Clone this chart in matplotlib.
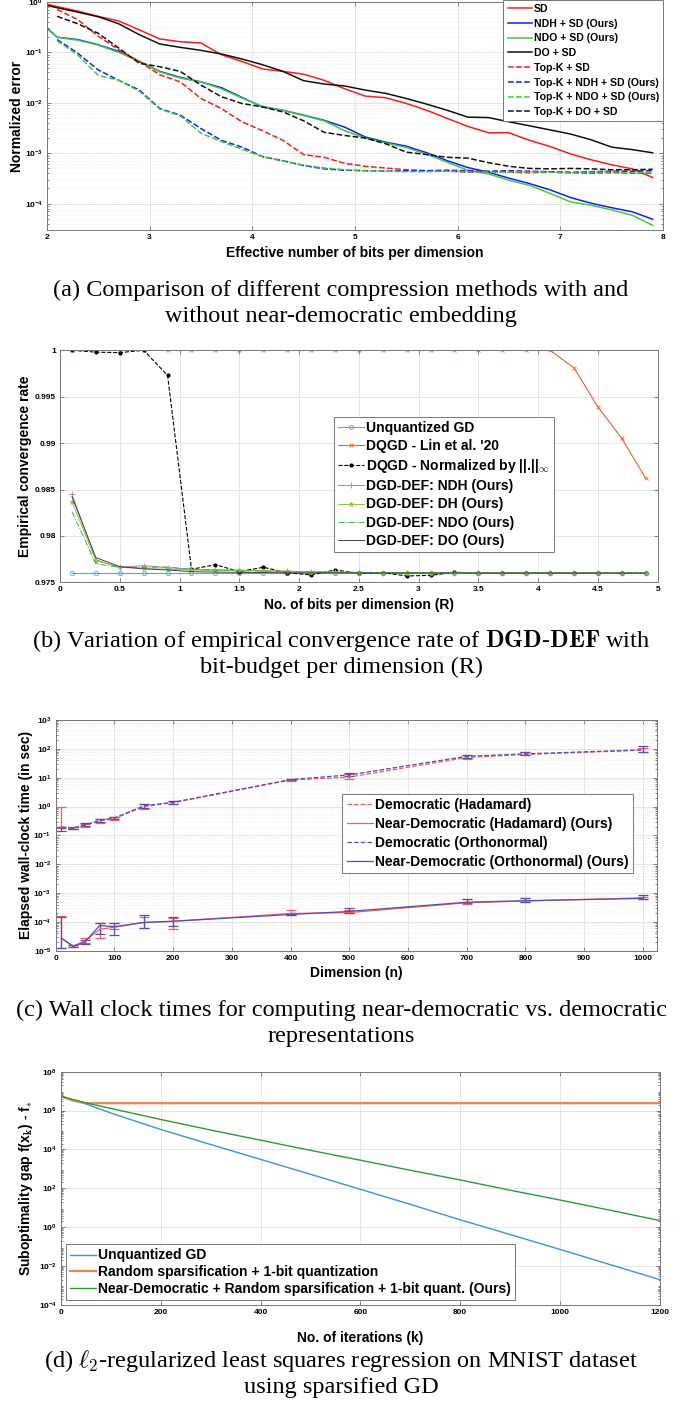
import matplotlib
matplotlib.use("Agg")
import matplotlib.pyplot as plt
from matplotlib.ticker import LogLocator, NullFormatter, MultipleLocator

plt.rcParams['font.family'] = ['Liberation Sans', 'DejaVu Sans']
plt.rcParams['mathtext.fontset'] = 'cm'

# ---- (a) compression methods ----
bits_solid = [2.0, 2.1, 2.3, 2.5, 2.7, 2.9, 3.1, 3.3, 3.5, 3.7, 3.9, 4.1, 4.3, 4.5, 4.7, 4.9,
              5.1, 5.3, 5.5, 5.7, 5.9, 6.1, 6.3, 6.5, 6.7, 6.9, 7.1, 7.3, 7.5, 7.7, 7.9]
bits_topk = [2.1, 2.3, 2.5, 2.7, 2.9, 3.1, 3.3, 3.5, 3.7, 3.9, 4.1, 4.3, 4.5, 4.7, 4.9,
             5.1, 5.3, 5.5, 5.7, 5.9, 6.1, 6.3, 6.5, 6.7, 6.9, 7.1, 7.3, 7.5, 7.7, 7.9]
sd = [0.9, 0.81, 0.66, 0.52, 0.42, 0.28, 0.185, 0.163, 0.154, 0.090, 0.066, 0.047, 0.042, 0.037,
      0.028, 0.019, 0.0136, 0.0126, 0.0097, 0.0071, 0.0049, 0.0034, 0.00255, 0.00255, 0.0018,
      0.00136, 0.00097, 0.00074, 0.00059, 0.00049, 0.00033]
ndh_sd = [0.31, 0.20, 0.18, 0.142, 0.105, 0.066, 0.042, 0.032, 0.026, 0.020, 0.0128, 0.0083,
          0.0071, 0.0057, 0.0045, 0.0033, 0.0021, 0.00166, 0.00138, 0.00102, 0.00071, 0.00052,
          0.00042, 0.00032, 0.00025, 0.000188, 0.000132, 0.000102, 8.3e-5, 6.9e-5, 4.9e-5]
ndo_sd = [0.30, 0.20, 0.175, 0.14, 0.10, 0.068, 0.041, 0.031, 0.026, 0.019, 0.0125, 0.0085,
          0.0071, 0.0056, 0.0044, 0.0028, 0.0020, 0.0016, 0.0013, 0.00095, 0.00066, 0.00046,
          0.00039, 0.00029, 0.00023, 0.00016, 0.000108, 9.3e-5, 7.5e-5, 5.9e-5, 3.7e-5]
do_sd = [0.86, 0.77, 0.63, 0.51, 0.37, 0.225, 0.147, 0.126, 0.11, 0.093, 0.074, 0.057, 0.042,
         0.0275, 0.0236, 0.0216, 0.0179, 0.0154, 0.0122, 0.0094, 0.0071, 0.0052, 0.0051, 0.0042,
         0.0035, 0.0029, 0.0024, 0.00185, 0.00132, 0.00118, 0.00102]
topk_sd = [0.71, 0.45, 0.21, 0.113, 0.066, 0.036, 0.026, 0.0122, 0.0077, 0.0042, 0.0028, 0.0018,
           0.00094, 0.00083, 0.00063, 0.00055, 0.00051, 0.00047, 0.00045, 0.00044, 0.00042,
           0.00043, 0.00042, 0.00041, 0.00042, 0.00041, 0.0004, 0.00041, 0.0004, 0.0004]
topk_ndh = [0.18, 0.097, 0.045, 0.028, 0.018, 0.0077, 0.0057, 0.0031, 0.0018, 0.00132, 0.00086,
            0.00071, 0.00057, 0.00049, 0.00046, 0.00045, 0.00044, 0.00045, 0.00045, 0.00046,
            0.00045, 0.00044, 0.00045, 0.00044, 0.00043, 0.00042, 0.00043, 0.00044, 0.00044, 0.00045]
topk_ndo = [0.17, 0.09, 0.035, 0.028, 0.017, 0.0075, 0.0055, 0.0025, 0.0017, 0.0012, 0.00085,
            0.0007, 0.00058, 0.00051, 0.00047, 0.00045, 0.00044, 0.00043, 0.00043, 0.00044,
            0.00043, 0.00042, 0.00042, 0.00043, 0.00042, 0.00041, 0.00042, 0.00042, 0.00041, 0.00041]
topk_do = [0.52, 0.37, 0.24, 0.122, 0.061, 0.052, 0.042, 0.0225, 0.0132, 0.0097, 0.0083, 0.0066,
           0.0044, 0.0026, 0.00225, 0.0020, 0.00154, 0.00105, 0.00094, 0.00083, 0.0008, 0.00065,
           0.00055, 0.0005, 0.00049, 0.0005, 0.00049, 0.00047, 0.00047, 0.00048]

# ---- (b) convergence rate vs R ----
R = [0.1, 0.3, 0.5, 0.7, 0.9, 1.1, 1.3, 1.5, 1.7, 1.9, 2.1, 2.3, 2.5, 2.7, 2.9, 3.1, 3.3, 3.5,
     3.7, 3.9, 4.1, 4.3, 4.5, 4.7, 4.9]
unq_gd = [0.976, 0.976, 0.976, 0.976, 0.976, 0.976, 0.976, 0.976, 0.976, 0.976, 0.976, 0.976,
          0.976, 0.976, 0.976, 0.976, 0.976, 0.976, 0.976, 0.976, 0.976, 0.976, 0.976, 0.976, 0.976]
dqgd_lin = [1, 1, 1, 1, 1, 1, 1, 1, 1, 1, 1, 1, 1, 1, 1, 1, 1, 1, 1, 1, 1,
            0.9981, 0.9939, 0.9905, 0.9862]
dqgd_inf = [1.0, 0.9998, 0.99975, 1.0, 0.9973, 0.9764, 0.9769, 0.97615, 0.97662, 0.97604,
            0.97579, 0.97633, 0.97597, 0.97604, 0.97568, 0.97575, 0.97608, 0.976, 0.976,
            0.97604, 0.97602, 0.97597, 0.976, 0.976, 0.97597]
def_ndh = [0.98452, 0.97741, 0.97662, 0.9768, 0.97658, 0.9764, 0.97635, 0.9763, 0.97625, 0.9762,
           0.97612, 0.9761, 0.97605, 0.97605, 0.97603, 0.97603, 0.97602, 0.97602, 0.97601,
           0.97601, 0.97601, 0.976, 0.976, 0.976, 0.976]
def_dh = [0.98369, 0.97733, 0.97662, 0.9765, 0.9764, 0.97633, 0.9763, 0.97628, 0.97625, 0.9762,
          0.97612, 0.9761, 0.97607, 0.97605, 0.97605, 0.97604, 0.97603, 0.97602, 0.97602,
          0.97601, 0.97601, 0.97601, 0.976, 0.976, 0.976]
def_ndo = [0.9826, 0.977, 0.9766, 0.9766, 0.97665, 0.9764, 0.9763, 0.97625, 0.9762, 0.97615,
           0.9761, 0.97608, 0.97606, 0.97605, 0.97604, 0.97603, 0.97602, 0.97602, 0.97601,
           0.97601, 0.976, 0.976, 0.976, 0.976, 0.976]
def_do = [0.98423, 0.97766, 0.97669, 0.97645, 0.97633, 0.97615, 0.9761, 0.97607, 0.97605,
          0.97603, 0.97602, 0.97602, 0.97601, 0.97601, 0.976, 0.976, 0.976, 0.976, 0.976, 0.976,
          0.976, 0.976, 0.976, 0.976, 0.976]

# ---- (c) wall clock ----
dims = [10, 30, 50, 75, 100, 150, 200, 400, 500, 700, 800, 1000]
dem_had = [0.2, 0.18, 0.22, 0.32, 0.38, 1.0, 1.35, 8.3, 10.5, 50, 64, 90]
dem_had_lo = [0.18, 0.17, 0.2, 0.27, 0.34, 0.85, 1.2, 7.8, 9.0, 45, 60, 75]
dem_had_hi = [1.0, 0.2, 0.25, 0.38, 0.43, 1.2, 1.5, 9.2, 13, 60, 78, 110]
near_had = [2.7e-5, 1.45e-5, 2.2e-5, 5.5e-5, 6.5e-5, 9.5e-5, 1.05e-4, 1.95e-4, 2.1e-4, 4.6e-4,
            5.3e-4, 6.8e-4]
near_had_lo = [1.2e-5, 1.35e-5, 1.8e-5, 2.8e-5, 5.5e-5, 6e-5, 5.5e-5, 1.7e-4, 1.95e-4, 4.3e-4,
               4.8e-4, 6e-4]
near_had_hi = [1.55e-4, 1.6e-5, 2.7e-5, 9e-5, 9e-5, 1.5e-4, 1.35e-4, 2.6e-4, 2.5e-4, 6e-4,
               6.8e-4, 7.5e-4]
dem_orth = [0.17, 0.18, 0.23, 0.33, 0.4, 1.05, 1.4, 8.6, 12.5, 55, 67, 92]
dem_orth_lo = [0.14, 0.17, 0.21, 0.29, 0.36, 0.9, 1.25, 8.0, 11, 48, 62, 80]
dem_orth_hi = [0.2, 0.19, 0.26, 0.37, 0.45, 1.2, 1.55, 9.3, 14, 62, 75, 125]
near_orth = [2.7e-5, 1.4e-5, 2.0e-5, 7.5e-5, 6.8e-5, 9.5e-5, 1.05e-4, 1.8e-4, 2.3e-4, 4.8e-4,
             5.4e-4, 6.5e-4]
near_orth_lo = [1.2e-5, 1.3e-5, 1.7e-5, 3.8e-5, 3.6e-5, 6.2e-5, 7e-5, 1.7e-4, 2.0e-4, 4.4e-4,
                5.0e-4, 6.0e-4]
near_orth_hi = [1.5e-4, 1.55e-5, 2.3e-5, 9e-5, 9.5e-5, 1.75e-4, 1.45e-4, 2.0e-4, 3.0e-4, 6.2e-4,
                6.5e-4, 8.5e-4]

# ---- (d) least squares on MNIST ----
iters = [0, 50, 100, 200, 300, 400, 500, 600, 700, 800, 900, 1000, 1100, 1200]
gap_unq = [5.5e6, 2.2e6, 7.5e5, 1.07e5, 1.8e4, 3.1e3, 5.3e2, 89, 15, 2.4, 0.42, 0.072, 0.012, 2.0e-3]
iters_rs = [0, 25, 50, 200, 400, 600, 800, 1000, 1200]
gap_rs = [5.5e6, 3.2e6, 2.4e6, 2.4e6, 2.4e6, 2.4e6, 2.4e6, 2.4e6, 2.4e6]
gap_nd = [5.5e6, 2.5e6, 1.3e6, 3.5e5, 1.0e5, 3.0e4, 9e3, 2.8e3, 8.5e2, 2.7e2, 80, 25, 7.5, 2.2]

W, H = 686, 1401
fig = plt.figure(figsize=(W / 100, H / 100), dpi=100)


def axes_px(left, top, right, bottom):
    return fig.add_axes([left / W, 1 - bottom / H, (right - left) / W, (bottom - top) / H])


def style(ax, minor_grid=False):
    ax.tick_params(direction='in', top=True, right=True, which='both', labelsize=6,
                   length=3, width=0.5, color='#555555', pad=3)
    ax.tick_params(which='minor', length=1.5)
    for lab in ax.get_xticklabels() + ax.get_yticklabels():
        lab.set_fontweight('bold')
    for s in ax.spines.values():
        s.set_color('#777777')
        s.set_linewidth(0.7)
    ax.grid(True, which='major', color='#e2e2e2', lw=0.6)
    if minor_grid:
        ax.grid(True, which='minor', axis='y', color='#e6e6e6', lw=0.5, ls=':')
    ax.set_axisbelow(True)


def labels(ax, xl, yl, ylx, xly):
    ax.set_xlabel(xl, fontsize=10, fontweight='bold', va='center')
    ax.set_ylabel(yl, fontsize=10, fontweight='bold', va='center')
    ax.yaxis.set_label_coords(ylx, 0.5)
    ax.xaxis.set_label_coords(0.5, xly)


def caption(y, text):
    fig.text(341 / W, 1 - y / H, text, ha='center', va='baseline', fontsize=17.5,
             family='Liberation Serif')


def box_legend(ax, size, **kw):
    leg = ax.legend(borderaxespad=0, prop={'size': size, 'weight': 'bold'}, fancybox=False,
                    framealpha=1, edgecolor='#777777', handletextpad=0.15, **kw)
    leg.get_frame().set_linewidth(0.7)
    return leg


# (a)
ax1 = axes_px(46.8, 2, 663, 230)
ax1.semilogy(bits_solid, sd, color='#ff1a1a', lw=1.1, label='SD')
ax1.semilogy(bits_solid, ndh_sd, color='#1a1aff', lw=1.1, label='NDH + SD (Ours)')
ax1.semilogy(bits_solid, ndo_sd, color='#3fcc3f', lw=1.1, label='NDO + SD (Ours)')
ax1.semilogy(bits_solid, do_sd, color='#111111', lw=1.1, label='DO + SD')
ax1.semilogy(bits_topk, topk_sd, color='#ff1a1a', lw=1.1, ls='--', label='Top-K + SD')
ax1.semilogy(bits_topk, topk_ndh, color='#1a1aff', lw=1.1, ls='--', label='Top-K + NDH + SD (Ours)')
ax1.semilogy(bits_topk, topk_ndo, color='#3fcc3f', lw=1.1, ls='--', label='Top-K + NDO + SD (Ours)')
ax1.semilogy(bits_topk, topk_do, color='#111111', lw=1.1, ls='--', label='Top-K + DO + SD')
ax1.set_xlim(2, 8)
ax1.set_ylim(3e-5, 1)
ax1.yaxis.set_major_locator(LogLocator(base=10, numticks=10))
ax1.yaxis.set_minor_locator(LogLocator(base=10, subs=range(2, 10), numticks=10))
ax1.yaxis.set_minor_formatter(NullFormatter())
style(ax1, minor_grid=True)
labels(ax1, 'Effective number of bits per dimension', 'Normalized error', -0.048, -0.10)
box_legend(ax1, 7.6, loc='upper right', bbox_to_anchor=(1.0, 1.01), handlelength=2.3,
           labelspacing=0.45, borderpad=0.4)
caption(296, '(a) Comparison of different compression methods with and')
caption(322, 'without near-democratic embedding')

# (b)
ax2 = axes_px(60, 350.3, 657.7, 582.3)
ax2.plot(R, unq_gd, color='#4da6e0', lw=0.8, marker='o', ms=3, mfc='none', mew=0.6,
         label='Unquantized GD')
ax2.plot(R, dqgd_lin, color='#e8602c', lw=0.8, marker='x', ms=3, mew=0.6,
         label="DQGD - Lin et al. '20")
ax2.plot(R, dqgd_inf, color='black', lw=0.8, ls='--', marker='.', ms=4,
         label=r'DQGD - Normalized by ||.||$_\infty$')
ax2.plot(R, def_ndh, color='#b07cc6', lw=0.7, marker='+', ms=4, mew=0.6,
         label='DGD-DEF: NDH (Ours)')
ax2.plot(R, def_dh, color='#8cc63e', lw=0.7, marker='*', ms=3.5, mew=0.5,
         label='DGD-DEF: DH (Ours)')
ax2.plot(R, def_ndo, color='#3fae3f', lw=0.7, ls='-.', label='DGD-DEF: NDO (Ours)')
ax2.plot(R, def_do, color='#444444', lw=0.7, label='DGD-DEF: DO (Ours)')
ax2.set_xlim(0, 5)
ax2.set_ylim(0.975, 1.0)
ax2.set_yticks([0.975, 0.98, 0.985, 0.99, 0.995, 1.0])
ax2.set_yticklabels(['0.975', '0.98', '0.985', '0.99', '0.995', '1'])
ax2.set_xticks([0, 0.5, 1, 1.5, 2, 2.5, 3, 3.5, 4, 4.5, 5])
ax2.set_xticklabels(['0', '0.5', '1', '1.5', '2', '2.5', '3', '3.5', '4', '4.5', '5'])
style(ax2)
labels(ax2, 'No. of bits per dimension (R)', 'Empirical convergence rate', -0.058, -0.098)
box_legend(ax2, 10, loc='upper left', bbox_to_anchor=(0.458, 0.714), handlelength=1.9,
           labelspacing=0.3, borderpad=0.3)
caption(647.5, r'(b) Variation of empirical convergence rate of $\mathbf{DGD}$-$\mathbf{DEF}$ with')
caption(673, 'bit-budget per dimension (R)')

# (c)
ax3 = axes_px(55.6, 720, 657, 950.7)
series = [
    (dem_had, dem_had_lo, dem_had_hi, '#ff5a5a', '--', 'Democratic (Hadamard)'),
    (near_had, near_had_lo, near_had_hi, '#ff5a5a', '-', 'Near-Democratic (Hadamard) (Ours)'),
    (dem_orth, dem_orth_lo, dem_orth_hi, '#5050b4', '--', 'Democratic (Orthonormal)'),
    (near_orth, near_orth_lo, near_orth_hi, '#5050b4', '-', 'Near-Democratic (Orthonormal) (Ours)'),
]
for mean, lo, hi, col, ls, lab in series:
    err = [[m - l for m, l in zip(mean, lo)], [h - m for m, h in zip(mean, hi)]]
    ax3.errorbar(dims, mean, yerr=err, color=col, ls=ls, lw=0.9, elinewidth=0.9,
                 capsize=3.5, capthick=0.9, label=lab)
ax3.set_yscale('log')
ax3.set_xlim(0, 1024)
ax3.set_ylim(1e-5, 1e3)
ax3.xaxis.set_major_locator(MultipleLocator(100))
ax3.yaxis.set_major_locator(LogLocator(base=10, numticks=12))
ax3.yaxis.set_minor_locator(LogLocator(base=10, subs=range(2, 10), numticks=12))
ax3.yaxis.set_minor_formatter(NullFormatter())
style(ax3, minor_grid=True)
labels(ax3, 'Dimension (n)', 'Elapsed wall-clock time (in sec)', -0.049, -0.097)
handles, labs = ax3.get_legend_handles_labels()
leg = ax3.legend([h[0] for h in handles], labs, loc='upper left', bbox_to_anchor=(0.477, 0.679),
                 borderaxespad=0, prop={'size': 10, 'weight': 'bold'}, fancybox=False,
                 framealpha=1, edgecolor='#777777', handlelength=1.9, handletextpad=0.15,
                 labelspacing=0.35, borderpad=0.3)
leg.get_frame().set_linewidth(0.7)
caption(1016, '(c) Wall clock times for computing near-democratic vs. democratic')
caption(1042, 'representations')

# (d)
ax4 = axes_px(60.8, 1071.7, 660, 1305)
ax4.semilogy(iters, gap_unq, color='#3d95d9', lw=1.0, label='Unquantized GD')
ax4.semilogy(iters_rs, gap_rs, color='#ee8350', lw=1.6,
             label='Random sparsification + 1-bit quantization')
ax4.semilogy(iters, gap_nd, color='#2e9b2e', lw=1.0,
             label='Near-Democratic + Random sparsification + 1-bit quant. (Ours)')
ax4.set_xlim(0, 1200)
ax4.set_ylim(1e-4, 1e8)
ax4.xaxis.set_major_locator(MultipleLocator(200))
ax4.yaxis.set_major_locator(LogLocator(base=100, numticks=8))
ax4.yaxis.set_minor_locator(LogLocator(base=10, subs=range(2, 10), numticks=14))
ax4.yaxis.set_minor_formatter(NullFormatter())
style(ax4)
labels(ax4, 'No. of iterations (k)', r'Suboptimality gap f(x$_{\mathbf{k}}$) - f$_{*}$', -0.058, -0.141)
box_legend(ax4, 10, loc='lower left', bbox_to_anchor=(0.008, 0.021), handlelength=1.9,
           labelspacing=0.2, borderpad=0.3)
caption(1367, r'(d) $\ell_2$-regularized least squares regression on MNIST dataset')
caption(1393, 'using sparsified GD')

fig.savefig('out.png', dpi=100)
